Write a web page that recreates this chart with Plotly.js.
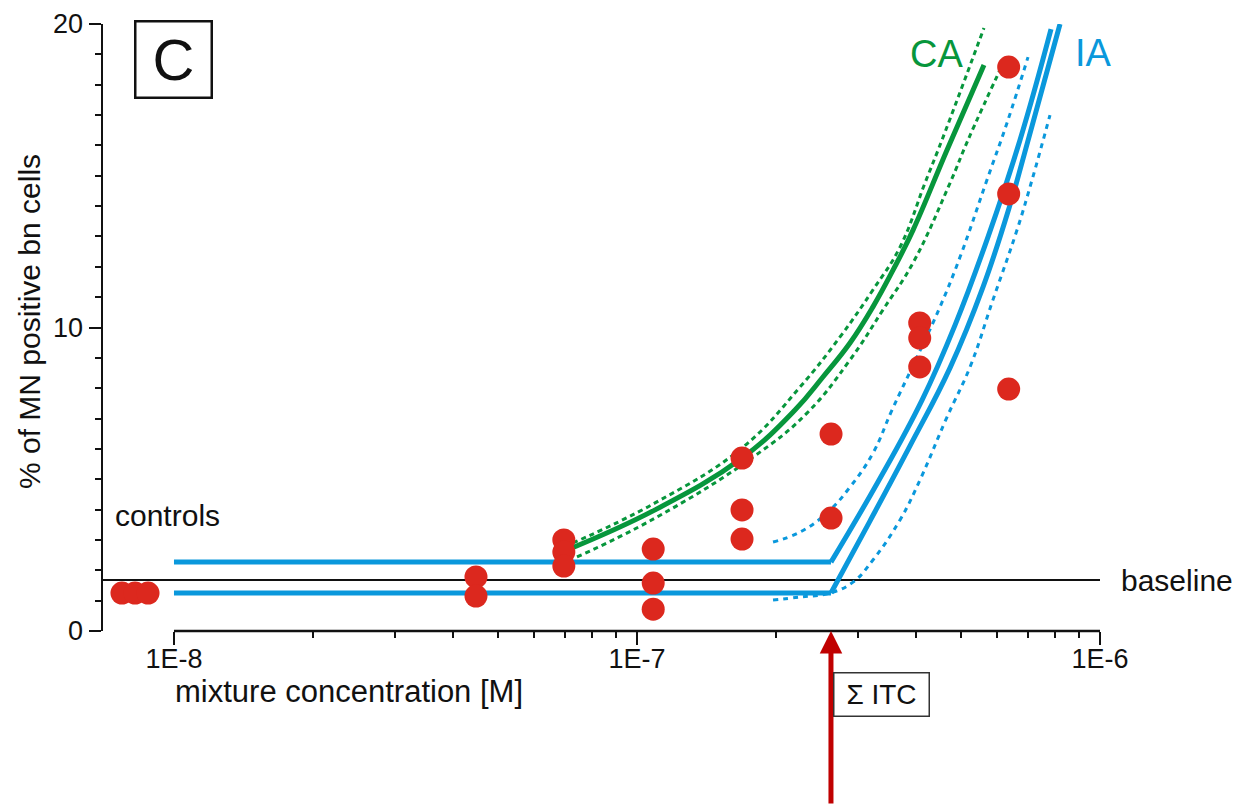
<!DOCTYPE html>
<html>
<head>
<meta charset="utf-8">
<script src="https://cdn.plot.ly/plotly-3.0.1.min.js"></script>
<style>html,body{margin:0;padding:0;background:#fff;}#chart{width:1248px;height:808px;}</style>
</head>
<body>
<div id="chart"></div>
<script>
// ---- data ----
const controlsX = [7.72e-9, 8.24e-9, 8.79e-9];
const controlsY = [1.25, 1.25, 1.25];

const mixX = [4.49e-8, 4.49e-8, 6.95e-8, 6.95e-8, 6.95e-8, 1.084e-7, 1.084e-7, 1.084e-7,
              1.686e-7, 1.686e-7, 1.686e-7, 2.625e-7, 2.625e-7, 4.08e-7, 4.08e-7, 4.08e-7,
              6.35e-7, 6.35e-7, 6.35e-7];
const mixY = [1.78, 1.15, 3.0, 2.6, 2.14, 2.70, 1.58, 0.72,
              5.70, 3.99, 3.03, 6.49, 3.72, 10.15, 9.65, 8.70,
              18.58, 14.40, 7.97];

// CA prediction and its confidence band
const caX = [6.99e-8, 1.094e-7, 1.686e-7, 2.194e-7, 2.521e-7, 2.884e-7, 3.233e-7, 3.572e-7, 3.946e-7, 4.673e-7, 5.616e-7];
const caY = [2.64, 3.99, 5.70, 7.28, 8.37, 9.49, 10.68, 11.89, 13.21, 15.85, 18.65];
const caHiX = [7.27e-8, 1.094e-7, 1.694e-7, 2.25e-7, 2.745e-7, 3.233e-7, 3.699e-7, 4.188e-7, 4.558e-7, 5.616e-7];
const caHiY = [2.90, 4.22, 6.06, 8.04, 9.69, 11.24, 12.65, 14.76, 16.18, 19.87];
const caLoX = [7.42e-8, 1.094e-7, 1.781e-7, 2.329e-7, 2.884e-7, 3.398e-7, 3.946e-7, 4.743e-7, 5.188e-7, 6.266e-7];
const caLoY = [2.44, 3.72, 5.73, 7.18, 8.93, 10.58, 12.13, 14.76, 16.18, 18.91];

// IA prediction: flat parts (up to sum ITC) and rising parts
const iaFlatX = [1e-8, 2.624e-7];
const iaUpFlatY = [2.27, 2.27];
const iaLowFlatY = [1.25, 1.25];
const iaUpX = [2.624e-7, 3.314e-7, 4.127e-7, 4.863e-7, 5.728e-7, 6.718e-7, 7.838e-7];
const iaUpY = [2.27, 4.91, 7.61, 10.08, 12.98, 16.18, 19.83];
const iaLowX = [2.624e-7, 3.185e-7, 3.887e-7, 4.743e-7, 5.588e-7, 6.392e-7, 6.854e-7, 8.196e-7];
const iaLowY = [1.25, 3.62, 6.10, 8.67, 11.33, 14.04, 15.68, 20.0];

const iaCiHiX = [1.967e-7, 2.25e-7, 2.572e-7, 2.884e-7, 3.233e-7, 3.554e-7, 4.026e-7, 4.513e-7, 4.985e-7, 5.699e-7, 6.297e-7, 6.991e-7];
const iaCiHiY = [2.93, 3.26, 3.89, 4.74, 5.86, 7.28, 9.03, 10.68, 12.32, 14.86, 16.74, 18.91];
const iaCiLoX = [1.967e-7, 2.25e-7, 2.611e-7, 2.928e-7, 3.233e-7, 3.699e-7, 4.086e-7, 4.673e-7, 5.24e-7, 5.872e-7, 6.618e-7, 7.131e-7, 7.798e-7];
const iaCiLoY = [1.02, 1.12, 1.25, 1.61, 2.34, 3.66, 4.98, 7.05, 8.70, 10.91, 13.21, 14.86, 17.00];

const baselineY = 1.68;
const sumITC = 2.624e-7;

const xTickVals = [1e-8, 1e-7, 1e-6];
const xTickText = ['1E-8', '1E-7', '1E-6'];
const xMinorVals = [2e-8,3e-8,4e-8,5e-8,6e-8,7e-8,8e-8,9e-8,2e-7,3e-7,4e-7,5e-7,6e-7,7e-7,8e-7,9e-7];
const yTickVals = [0, 10, 20];

// ---- styling ----
const FONT = 'Liberation Sans, Arial, Helvetica, sans-serif';
const BLUE = '#0a98dc';
const GREEN = '#07963c';
const RED = '#dc281e';
const INK = '#111111';

function curve(x, y, color, width, dash, spline) {
  return {x: x, y: y, type: 'scatter', mode: 'lines', hoverinfo: 'skip',
          line: {color: color, width: width, dash: dash || 'solid',
                 shape: spline ? 'spline' : 'linear', smoothing: 1.2}};
}

const traces = [
  curve(caHiX, caHiY, GREEN, 3, '5px,4px', true),
  curve(caLoX, caLoY, GREEN, 3, '5px,4px', true),
  curve(caX, caY, GREEN, 5, 'solid', true),
  curve(iaCiHiX, iaCiHiY, BLUE, 3, '5px,5px', true),
  curve(iaCiLoX, iaCiLoY, BLUE, 3, '5px,5px', true),
  curve(iaFlatX, iaUpFlatY, BLUE, 5, 'solid', false),
  curve(iaFlatX, iaLowFlatY, BLUE, 5, 'solid', false),
  curve(iaUpX, iaUpY, BLUE, 5, 'solid', true),
  curve(iaLowX, iaLowY, BLUE, 5, 'solid', true),
  {x: controlsX, y: controlsY, type: 'scatter', mode: 'markers', cliponaxis: false,
   marker: {color: RED, size: 23, line: {width: 0}}},
  {x: mixX, y: mixY, type: 'scatter', mode: 'markers', cliponaxis: false,
   marker: {color: RED, size: 23, line: {width: 0}}}
];

const layout = {
  width: 1248, height: 808,
  margin: {l: 103, r: 148, t: 24, b: 177},
  paper_bgcolor: '#ffffff', plot_bgcolor: '#ffffff',
  showlegend: false,
  font: {family: FONT, color: INK},
  xaxis: {
    type: 'log', range: [-8.1533, -6], showgrid: false, zeroline: false, showline: false,
    ticks: 'outside', ticklen: 13, tickwidth: 2, tickcolor: INK,
    tickmode: 'array', tickvals: xTickVals, ticktext: xTickText,
    ticklabelstandoff: -9,
    tickfont: {family: FONT, size: 27, color: INK},
    minor: {tickmode: 'array', tickvals: xMinorVals, ticks: 'outside', ticklen: 6, tickwidth: 2, tickcolor: INK}
  },
  yaxis: {
    range: [0, 20], showgrid: false, zeroline: false, showline: true, linecolor: INK, linewidth: 2.5,
    ticks: 'outside', ticklen: 12, tickwidth: 2, tickcolor: INK,
    tickmode: 'array', tickvals: yTickVals,
    tickfont: {family: FONT, size: 27, color: INK},
    minor: {dtick: 1, ticks: 'outside', ticklen: 6, tickwidth: 2, tickcolor: INK}
  },
  shapes: [
    {type: 'line', xref: 'paper', yref: 'y', x0: 0, x1: 1, y0: baselineY, y1: baselineY,
     line: {color: INK, width: 2}, layer: 'below'},
    {type: 'line', xref: 'x', yref: 'paper', x0: xTickVals[0], x1: xTickVals[2], y0: 0, y1: 0,
     line: {color: INK, width: 2.5}, layer: 'above'}
  ],
  annotations: [
    {xref: 'paper', yref: 'paper', x: 0.0712, y: 0.9407, text: 'C', showarrow: false,
     font: {family: FONT, size: 58, color: INK}, width: 72, height: 72,
     bordercolor: INK, borderwidth: 2.5, borderpad: 1, xanchor: 'center', yanchor: 'middle'},
    {xref: 'paper', yref: 'paper', x: 0.010, y: 0.190, text: 'controls', showarrow: false,
     xanchor: 'left', yanchor: 'middle', font: {family: FONT, size: 30, color: INK}},
    {xref: 'paper', yref: 'paper', x: 1.019, y: 0.083, text: 'baseline', showarrow: false,
     xanchor: 'left', yanchor: 'middle', font: {family: FONT, size: 30, color: INK}},
    {xref: 'paper', yref: 'paper', x: 0.8365, y: 0.951, text: 'CA', showarrow: false,
     xanchor: 'center', yanchor: 'middle', font: {family: FONT, size: 38, color: GREEN}},
    {xref: 'paper', yref: 'paper', x: 0.993, y: 0.952, text: 'IA', showarrow: false,
     xanchor: 'center', yanchor: 'middle', font: {family: FONT, size: 38, color: BLUE}},
    {xref: 'paper', yref: 'paper', x: 0.0702, y: -0.100, text: 'mixture concentration [M]', showarrow: false,
     xanchor: 'left', yanchor: 'middle', font: {family: FONT, size: 31, color: INK}},
    {xref: 'paper', yref: 'paper', x: -0.0742, y: 0.509, text: '% of MN positive bn cells', showarrow: false,
     textangle: -90, xanchor: 'center', yanchor: 'middle', font: {family: FONT, size: 30, color: INK}},
    {xref: 'x', yref: 'y', x: Math.log10(sumITC), y: 0, ax: 0, ay: 174, text: '', showarrow: true,
     arrowhead: 2, arrowsize: 0.9, arrowwidth: 5, arrowcolor: '#c00000', standoff: 0},
    {xref: 'x', yref: 'paper', x: Math.log10(sumITC), y: -0.1046, xshift: 2, text: 'Σ ITC', showarrow: false,
     xanchor: 'left', yanchor: 'middle', align: 'center', width: 92, height: 40,
     bordercolor: '#333333', borderwidth: 1.5, borderpad: 1, bgcolor: '#ffffff',
     font: {family: FONT, size: 28, color: INK}}
  ]
};

Plotly.newPlot('chart', traces, layout, {displayModeBar: false, staticPlot: true});
</script>
</body>
</html>
